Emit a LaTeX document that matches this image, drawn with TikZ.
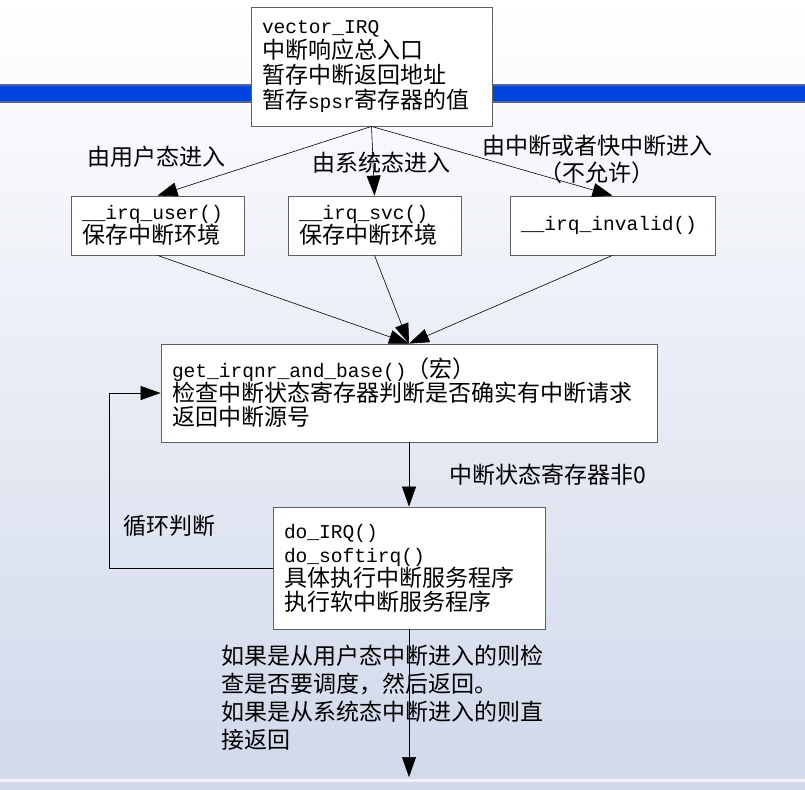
\documentclass[tikz,border=0pt]{standalone}
\usepackage{fontspec}
\setmainfont{Noto Sans CJK SC}
\newfontfamily\code[Scale=0.85]{Liberation Mono}
\usetikzlibrary{arrows.meta}
\definecolor{band}{RGB}{0,68,224}
\definecolor{bandedge}{RGB}{80,100,150}
\definecolor{bgbot}{RGB}{208,216,234}
\definecolor{boxline}{RGB}{96,96,96}

\begin{document}
\begin{tikzpicture}[x=1pt,y=-1pt,
  >={Triangle[length=20pt,width=14pt]},
  box/.style={draw=boxline,fill=white,line width=.8pt,align=left,inner xsep=11pt,inner ysep=0pt,
    font=\fontsize{23}{24}\selectfont},
  lbl/.style={align=center,inner sep=0pt,font=\fontsize{23}{27}\selectfont}]
% background
\useasboundingbox (0,0) rectangle (805,789);
\shade[top color=white,bottom color=bgbot] (0,0) rectangle (805,789);
\fill[band] (0,85) rectangle (805,102);
\draw[bandedge,line width=1.2pt] (0,85) -- (805,85) (0,102) -- (805,102);
\fill[white!70!bgbot] (0,779) rectangle (805,782);

% boxes
\node[box,text width=219,minimum height=119,font=\fontsize{23}{25}\selectfont] (irq) at (371.5,66.5)
  {{\code vector\_IRQ}\\中断响应总入口\\暂存中断返回地址\\暂存{\code spsr}寄存器的值};
\node[box,text width=151,minimum height=59] (usr) at (157.5,225.5)
  {{\code \_\_irq\_user()}\\保存中断环境};
\node[box,text width=151,minimum height=59] (svc) at (374.5,225.5)
  {{\code \_\_irq\_svc()}\\保存中断环境};
\node[box,text width=183,minimum height=59] (inv) at (612.5,225.5)
  {{\code \_\_irq\_invalid()}};
\node[box,text width=474,minimum height=98] (get) at (409,393)
  {{\code get\_irqnr\_and\_base()}（宏）\\检查中断状态寄存器判断是否确实有中断请求\\返回中断源号};
\node[box,text width=250,minimum height=122] (doirq) at (409,568)
  {{\code do\_IRQ()}\\{\code do\_softirq()}\\具体执行中断服务程序\\执行软中断服务程序};

% labels
\node[lbl] (l1) at (156.5,157) {由用户态进入};
\node[lbl] (l2) at (381.5,163) {由系统态进入};
\node[lbl] (l3) at (597,159.5) {由中断或者快中断进入\\（不允许）};
\node[lbl] (loop) at (169,526) {循环判断};
\node[lbl,align=left,anchor=west,font=\fontsize{23}{28}\selectfont] (ret) at (221,698)
  {如果是从用户态中断进入的则检\\查是否要调度，然后返回。\\如果是从系统态中断进入的则直\\接返回};

% arrows
\coordinate (lp) at (109,568);
\coordinate (out) at (409,777);
\draw[->,line width=.6pt] (irq.south) -- (usr.north);
\draw[->,line width=.6pt] (irq.south) -- (svc.north);
\draw[->,line width=.6pt] (irq.south) -- (inv.north);
\draw[->,line width=.6pt] (usr.south) -- (get.north);
\draw[->,line width=.6pt] (svc.south) -- (get.north);
\draw[->,line width=.6pt] (inv.south) -- (get.north);
\draw[->,line width=.6pt] (get.south) -- node[lbl,right=40pt] {中断状态寄存器非0} (doirq.north);
\draw[->,line width=.6pt] (doirq.west) -- (lp) |- (get.west);
\draw[->,line width=.6pt] (doirq.south) -- (out);
\end{tikzpicture}
\end{document}
